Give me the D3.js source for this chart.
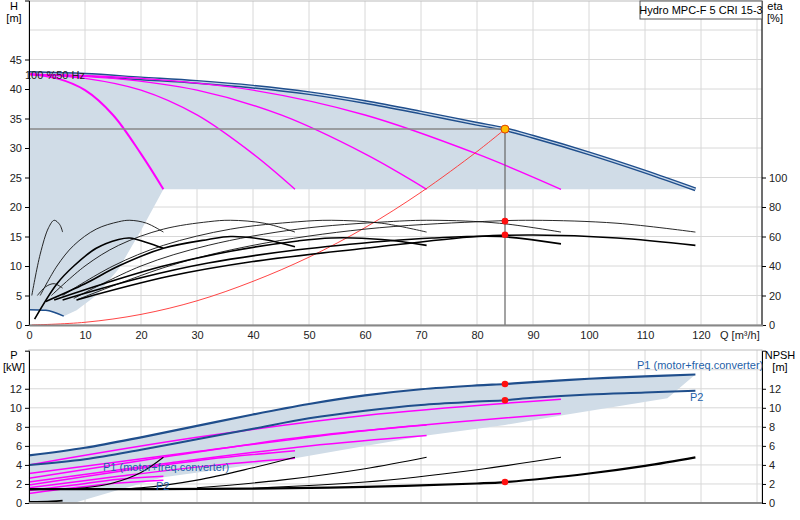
<!DOCTYPE html>
<html><head><meta charset="utf-8">
<script src="https://cdn.jsdelivr.net/npm/d3@7"></script>
<style>body{margin:0;background:#fff}text{font-family:"Liberation Sans",Arial,sans-serif;font-size:11px}</style>
</head><body><svg id="c" width="800" height="520"></svg>
<script>
// ---- data ----
const qTicks=[0,10,20,30,40,50,60,70,80,90,100,110,120];
const hTicks=[0,5,10,15,20,25,30,35,40,45];
const etaTicks=[0,20,40,60,80,100];
const pTicks=[0,2,4,6,8,10,12];
const npshTicks=[0,2,4,6,8,10,12];
const title="Hydro MPC-F 5 CRI 15-3";
// H curves
const hMax=[[0,42.7],[10,42.4],[20,41.8],[30,41.2],[40,40.4],[50,39.3],[60,37.8],[70,36],[80,34.1],[85,33.2],[90,31.9],[100,29.1],[110,26],[119,23]];
const hMin=[[0,2.6],[3,2.5],[6.2,1.5]];
const shadeEdge=[[119,23],[24,23],[20,16],[16,9.5],[12,5],[8.5,2.5],[6.2,1.5]];
const hPump1=[[0,42.5],[5,41.8],[10,39.8],[15,35.6],[20,29],[24,23]];
const hPump2=[[0,42.5],[10,41.8],[20,39.8],[30,35.6],[40,29],[47.5,23]];
const hPump3=[[0,42.5],[15,41.8],[30,39.8],[45,35.6],[60,29],[71,23]];
const hPump4=[[0,42.5],[20,41.8],[40,39.8],[60,35.6],[80,29],[95,23]];
const system=[[0.5,0],[10,0.46],[20,1.8],[30,4.1],[40,7.4],[50,11.5],[60,16.5],[70,22.5],[80,29.4],[85,33.2]];
const duty=[85,33.2];
// efficiency curves (in eta %)
const etaP1=[[2,20],[5,40],[8,54],[12,65],[16,70],[18,71],[21,69],[24,63]];
const etaP2=[[4,20],[10,40],[16,54],[24,65],[32,70],[36,71],[42,69],[47.5,63]];
const etaP3=[[6,20],[15,40],[24,54],[36,65],[48,70],[54,71],[63,69],[71,63]];
const etaP4=[[8,18],[20,40],[32,54],[48,65],[64,70],[72,71],[84,69],[95,63]];
const etaP5=[[8.5,17],[25,40],[40,54],[60,65],[80,70],[90,71],[105,69],[119,63]];
const etaT1=[[1,4],[5,28],[8,40],[12,52],[16,58],[18,59],[21,56],[24,52]];
const etaT2=[[3,16],[10,28],[16,40],[24,52],[32,58],[36,60],[42,58],[47.5,53]];
const etaT3=[[4.5,17],[15,30],[24,40],[36,50],[48,57],[54,59],[63,58],[71,54]];
const etaT4=[[6,17],[20,32],[32,42],[48,51],[64,57],[72,59],[84,60],[95,55]];
const etaT5=[[8.5,17],[25,33],[40,43],[60,52],[80,60],[90,61],[105,59],[119,54]];
const etaSmall=[[0.5,20],[2,48],[3.5,66],[4.5,71],[5.5,68],[6,63]];
const etaSmall2=[[1.5,20],[3,26],[4.5,28],[6,25]];
const etaDuty=[70.4,61.2];
// power curves
const p1Tot=[[0,5],[10,5.8],[20,6.9],[30,8.1],[40,9.3],[50,10.4],[60,11.3],[70,11.95],[80,12.35],[85,12.5],[90,12.7],[100,13.05],[110,13.3],[119,13.5]];
const p2Tot=[[0,4],[10,4.6],[20,5.6],[30,6.7],[40,7.8],[50,8.9],[60,9.7],[70,10.3],[80,10.65],[85,10.8],[90,11.05],[100,11.4],[110,11.6],[119,11.8]];
const pShadeLow=[[119,13.5],[114,11],[95,9.2],[85,8.2],[71,7.1],[60,6],[47.5,4.7],[35,3.6],[24,2.7],[15,1.2],[8,0],[0,0]];
const pMag=[
 [[0,4],[30,6.9],[60,9.2],[95,10.9]],
 [[0,3.1],[30,5.4],[60,7.6],[95,9.4]],
 [[0,2.6],[25,4.9],[50,7],[71,8.2]],
 [[0,2.2],[25,4.2],[50,6],[71,7.1]],
 [[0,1.9],[16,3.3],[32,4.6],[47.5,5.5]],
 [[0,1.6],[16,2.8],[32,3.9],[47.5,4.7]],
 [[0,1.3],[8,1.9],[16,2.5],[24,2.8]],
 [[0,1.0],[8,1.6],[16,2.1],[24,2.4]]];
const npsh5=[[0,1.45],[40,1.5],[60,1.7],[80,2.05],[85,2.2],[100,3.1],[110,3.9],[119,4.8]];
const npsh4=[[40,1.55],[60,2.2],[80,3.5],[95,4.8]];
const npsh3=[[30,1.6],[45,2.4],[60,3.6],[71,4.8]];
const npsh2=[[10,1.45],[20,1.6],[30,2.4],[40,3.7],[47.5,4.8]];
const npsh1=[[0,1.4],[10,1.6],[15,2.1],[20,3.2],[24,4.8]];
const npshSmall=[[0,0.1],[4,0.15],[6,0.25]];
const pDuty=[[85,12.5],[85,10.8],[85,2.2]];

// ---- drawing ----
const svg=d3.select("#c");
const L=29,R=762;
const x=d3.scaleLinear().domain([0,131]).range([L,L+5.6*131]);
const yH=d3.scaleLinear().domain([0,55]).range([325,325-5.9*55]);
const yE=d3.scaleLinear().domain([0,100]).range([325,325-5.9*25]);
const yP=d3.scaleLinear().domain([0,16]).range([503,503-9.52*16]);
const grid="#d8d8d8";
function frame(top,bot){
  svg.append("rect").attr("x",L).attr("y",top).attr("width",R-L).attr("height",bot-top).attr("fill","none").attr("stroke","#bbb");
}
[5,10,15,20,25,30,35,40,45,50].forEach(v=>svg.append("line").attr("x1",L).attr("x2",R).attr("y1",yH(v)).attr("y2",yH(v)).attr("stroke",grid));
[10,20,30,40,50,60,70,80,90,100,110,120,130].forEach(v=>svg.append("line").attr("x1",x(v)).attr("x2",x(v)).attr("y1",1).attr("y2",325).attr("stroke",grid));
frame(1,325);
const line=(ys)=>d3.line().x(d=>x(d[0])).y(d=>ys(d[1])).curve(d3.curveMonotoneX);
const lineC=(ys)=>d3.line().x(d=>x(d[0])).y(d=>ys(d[1])).curve(d3.curveCatmullRom);
svg.append("path").attr("d",d3.line().x(d=>x(d[0])).y(d=>yH(d[1]))( [[0,2.6]].concat(hMax,shadeEdge,hMin.slice().reverse()) )).attr("fill","#d0dce7");
svg.append("path").attr("d",line(yH)(hMax)).attr("fill","none").attr("stroke","#1f4e8c").attr("stroke-width",4);
svg.append("path").attr("d",line(yH)(hMax)).attr("fill","none").attr("stroke","#c8d8ea").attr("stroke-width",1.2);
svg.append("path").attr("d",line(yH)(hMin)).attr("fill","none").attr("stroke","#1f4e8c").attr("stroke-width",1.5);
[hPump1,hPump2,hPump3,hPump4].forEach((c,i)=>svg.append("path").attr("d",lineC(yH)(c)).attr("fill","none").attr("stroke","#ff00ff").attr("stroke-width",i==0?2:1.4));
svg.append("text").attr("x",25).attr("y",79).attr("fill","#222").attr("font-size",10.5).text("100 %50 Hz");
svg.append("line").attr("x1",L).attr("x2",x(duty[0])).attr("y1",yH(duty[1])).attr("y2",yH(duty[1])).attr("stroke","#888").attr("stroke-width",1.5);
svg.append("line").attr("x1",x(duty[0])).attr("x2",x(duty[0])).attr("y1",yH(duty[1])).attr("y2",325).attr("stroke","#666").attr("stroke-width",1.2);
svg.append("path").attr("d",lineC(yH)(system)).attr("fill","none").attr("stroke","#ff3030").attr("stroke-width",0.9);
[etaP1,etaP2,etaP3,etaP4,etaP5,etaSmall,etaSmall2].forEach(c=>svg.append("path").attr("d",lineC(yE)(c)).attr("fill","none").attr("stroke","#111").attr("stroke-width",0.9));
[etaT1,etaT2,etaT3,etaT4,etaT5].forEach(c=>svg.append("path").attr("d",lineC(yE)(c)).attr("fill","none").attr("stroke","#000").attr("stroke-width",1.6));
svg.append("circle").attr("cx",x(duty[0])).attr("cy",yH(duty[1])).attr("r",4).attr("fill","#ffc000").attr("stroke","#e04000");
etaDuty.forEach(v=>svg.append("circle").attr("cx",x(85)).attr("cy",yE(v)).attr("r",3.3).attr("fill","#ff1010"));
svg.append("g").attr("transform",`translate(${L},0)`).call(d3.axisLeft(yH).tickValues(hTicks).tickSize(4)).call(g=>g.select(".domain").attr("stroke","#000"));
svg.append("g").attr("transform",`translate(${R},0)`).call(d3.axisRight(yE).tickValues(etaTicks).tickSize(4)).call(g=>g.select(".domain").remove());
svg.append("line").attr("x1",R).attr("x2",R).attr("y1",1).attr("y2",325).attr("stroke","#000");
svg.append("g").attr("transform",`translate(0,325)`).call(d3.axisBottom(x).tickValues(qTicks).tickSize(0).tickPadding(6)).call(g=>g.select(".domain").attr("stroke","#888").attr("stroke-width",2));
svg.selectAll(".tick text").attr("font-size",11).attr("fill","#222");
svg.append("text").attr("x",720).attr("y",339).attr("fill","#222").text("Q [m³/h]");
svg.append("text").attr("x",14).attr("y",10).attr("text-anchor","middle").text("H");
svg.append("text").attr("x",14).attr("y",22).attr("text-anchor","middle").text("[m]");
svg.append("text").attr("x",775).attr("y",10).attr("text-anchor","middle").text("eta");
svg.append("text").attr("x",775).attr("y",22).attr("text-anchor","middle").text("[%]");
svg.append("rect").attr("x",640).attr("y",1).attr("width",122).attr("height",18).attr("fill","#fff").attr("stroke","#555");
svg.append("text").attr("x",701).attr("y",14).attr("text-anchor","middle").attr("font-size",10.5).text(title);

pTicks.concat([14]).forEach(v=>{ if(v>0) svg.append("line").attr("x1",L).attr("x2",R).attr("y1",yP(v)).attr("y2",yP(v)).attr("stroke",grid);});
[10,20,30,40,50,60,70,80,90,100,110,120,130].forEach(v=>svg.append("line").attr("x1",x(v)).attr("x2",x(v)).attr("y1",350).attr("y2",503).attr("stroke",grid));
frame(350,503);
svg.append("path").attr("d",d3.line().x(d=>x(d[0])).y(d=>yP(d[1])).curve(d3.curveLinear)(p1Tot.concat(pShadeLow))).attr("fill","#d0dce7");
pMag.forEach(c=>svg.append("path").attr("d",lineC(yP)(c)).attr("fill","none").attr("stroke","#ff00ff").attr("stroke-width",1.5));
svg.append("path").attr("d",lineC(yP)(p1Tot)).attr("fill","none").attr("stroke","#1f4e8c").attr("stroke-width",2.2);
svg.append("path").attr("d",lineC(yP)(p2Tot)).attr("fill","none").attr("stroke","#1f4e8c").attr("stroke-width",2);
[npsh1,npsh2,npsh3,npsh4].forEach(c=>svg.append("path").attr("d",lineC(yP)(c)).attr("fill","none").attr("stroke","#000").attr("stroke-width",1.1));
svg.append("path").attr("d",lineC(yP)(npsh5)).attr("fill","none").attr("stroke","#000").attr("stroke-width",2.2);
svg.append("path").attr("d",lineC(yP)(npshSmall)).attr("fill","none").attr("stroke","#000").attr("stroke-width",2);
pDuty.forEach(d=>svg.append("circle").attr("cx",x(d[0])).attr("cy",yP(d[1])).attr("r",3.3).attr("fill","#ff1010"));
svg.append("g").attr("transform",`translate(${L},0)`).call(d3.axisLeft(yP).tickValues(pTicks).tickSize(4)).call(g=>g.select(".domain").attr("stroke","#000"));
svg.append("g").attr("transform",`translate(${R},0)`).call(d3.axisRight(yP).tickValues(npshTicks).tickSize(4)).call(g=>g.select(".domain").attr("stroke","#000"));
svg.append("line").attr("x1",L).attr("x2",R).attr("y1",503).attr("y2",503).attr("stroke","#888").attr("stroke-width",2);
svg.selectAll(".tick text").attr("font-size",11).attr("fill","#222");
svg.append("text").attr("x",14).attr("y",359).attr("text-anchor","middle").text("P");
svg.append("text").attr("x",14).attr("y",371).attr("text-anchor","middle").text("[kW]");
svg.append("text").attr("x",780).attr("y",359).attr("text-anchor","middle").text("NPSH");
svg.append("text").attr("x",780).attr("y",371).attr("text-anchor","middle").text("[m]");
const blue="#1f5fa8";
svg.append("text").attr("x",637).attr("y",369).attr("fill",blue).text("P1 (motor+freq.converter)");
svg.append("text").attr("x",690).attr("y",401).attr("fill",blue).text("P2");
svg.append("text").attr("x",103).attr("y",471).attr("fill",blue).text("P1 (motor+freq.converter)");
svg.append("text").attr("x",156).attr("y",490).attr("fill",blue).text("P2");
</script></body></html>
